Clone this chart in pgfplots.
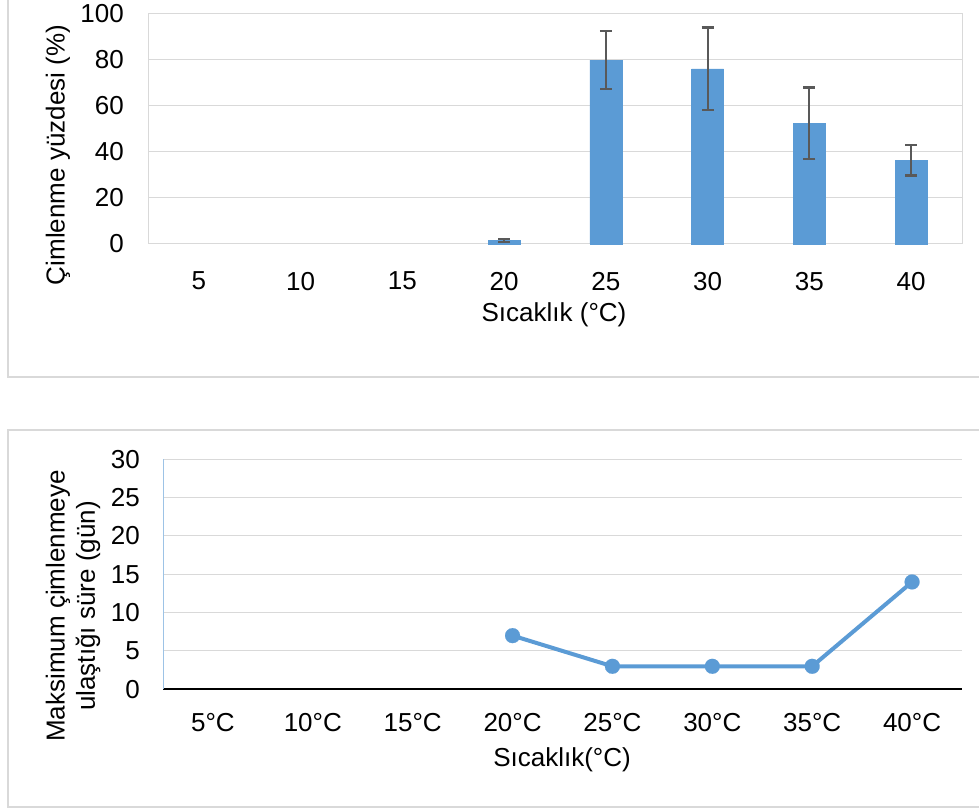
\documentclass[border=0pt]{standalone}
\usepackage{fontspec}
\setmainfont{Liberation Sans}
\usepackage{pgfplots}
\pgfplotsset{compat=1.18}
\definecolor{barblue}{HTML}{5B9BD5}
\definecolor{gridgray}{HTML}{D9D9D9}
\definecolor{errgray}{HTML}{595959}
\definecolor{axblue}{HTML}{9DC3E6}
\begin{document}
\fontsize{26}{31}\selectfont
\begin{tikzpicture}[x=1pt,y=1pt]
\path[use as bounding box] (0,0) rectangle (979,809);
\draw[gridgray, line width=1.5pt] (8,812) -- (8,432) -- (982,432);
\draw[gridgray, line width=1.5pt] (982,379) -- (8,379) -- (8,2) -- (982,2);
\begin{axis}[
  at={(148pt,565pt)}, anchor=south west, scale only axis,
  width=814pt, height=230pt,
  xmin=-0.5, xmax=7.5, ymin=0, ymax=100,
  ytick={0,20,...,100}, xtick={0,...,7},
  xticklabels={5,10,15,20,25,30,35,40},
  ymajorgrids, grid style={gridgray, line width=1pt},
  axis line style={gridgray, line width=1pt},
  major tick style={draw=none},
  /pgf/number format/assume math mode=true,
  tick label style={inner sep=0pt, font=\fontsize{26}{31}\selectfont},
  yticklabel style={anchor=east, xshift=-24pt},
  xticklabel style={anchor=north, yshift=-23.5pt},
  clip=false,
  ybar, bar width=32pt,
]
\addplot[fill=barblue, draw=barblue, line width=0.5pt,
  error bars/.cd, y dir=both, y explicit,
  error bar style={draw=errgray, line width=2.2pt},
  error mark options={rotate=90, mark size=6pt, draw=errgray, line width=2.2pt}]
  table[x=x, y=y, y error=e] {
  x y e
  3 1.5 0.8
  4 79.9 12.6
  5 76.1 18.0
  6 52.5 15.5
  7 36.4 6.6
};
\end{axis}
\node[rotate=90] at (58,654) {Çimlenme yüzdesi (\%)};
\node at (554,494) {Sıcaklık (°C)};
\begin{axis}[
  at={(163pt,119.7pt)}, anchor=south west, scale only axis,
  width=799pt, height=230pt,
  xmin=-0.5, xmax=7.5, ymin=0, ymax=30,
  ytick={0,5,...,30}, xtick={0,...,7},
  xticklabels={5°C,10°C,15°C,20°C,25°C,30°C,35°C,40°C},
  axis x line*=bottom, axis y line*=left,
  x axis line style={black, line width=2pt},
  y axis line style={axblue, line width=1pt},
  ymajorgrids, grid style={gridgray, line width=1pt},
  major tick style={draw=none},
  /pgf/number format/assume math mode=true,
  tick label style={inner sep=0pt, font=\fontsize{26}{31}\selectfont},
  yticklabel style={anchor=east, xshift=-23pt},
  xticklabel style={anchor=north, yshift=-23.5pt},
  clip=false,
]
\addplot[barblue, line width=4pt, mark=*, mark size=7.5pt,
  mark options={solid, fill=barblue, draw=barblue, line width=0.1pt}]
  coordinates {(3,7) (4,3) (5,3) (6,3) (7,14)};
\end{axis}
\node[rotate=90] at (58,203) {Maksimum çimlenmeye};
\node[rotate=90] at (88,203) {ulaştığı süre (gün)};
\node at (562,49) {Sıcaklık(°C)};
\end{tikzpicture}
\end{document}
